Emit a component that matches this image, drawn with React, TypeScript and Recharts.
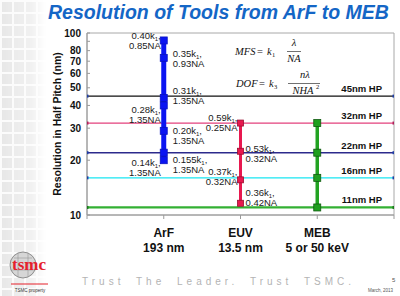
import React from 'react';
import { ComposedChart, Scatter, XAxis, YAxis, ReferenceArea } from 'recharts';

// tools on the x axis
const toolNames = ['ArF', 'EUV', 'MEB'];
const toolSources = ['193 nm', '13.5 nm', '5 or 50 keV'];

// half-pitch nodes (horizontal lines)
const hpNodes = [45, 32, 22, 16, 11];
const hpLabels = ['45nm HP', '32nm HP', '22nm HP', '16nm HP', '11nm HP'];

// ArF resolution points (nm), with k1 / NA annotations
const arfRes = [91, 73, 44, 40, 29, 22, 20];
const arfK1 = ['0.40', '0.35', '0.31', '0.28', '0.20', '0.155', '0.14'];
const arfNA = ['0.85', '0.93', '1.35', '1.35', '1.35', '1.35', '1.35'];

// EUV resolution points (nm)
const euvRes = [32, 22.4, 15.6, 11.6];
const euvK1 = ['0.59', '0.53', '0.37', '0.36'];
const euvNA = ['0.25', '0.32', '0.32', '0.42'];

// MEB resolution points (nm)
const mebRes = [32, 22, 16, 11];

const yTicks = [10, 20, 30, 40, 50, 60, 70, 80, 90, 100];
const xTicks = [0, 1, 2, 3, 4];

// annotation placement (layout only)
const arfSide = ['left', 'right', 'right', 'left', 'right', 'right', 'left'];
const arfDy = [-4, -4, -7, 5, 0, 7, 3];
const euvSide = ['left', 'right', 'left', 'right'];
const euvDy = [-5, -2, -8, -10];

const hpColors = ['#111111', '#e3407c', '#2c2a8c', '#19e6f2', '#33b033'];
const hpWidths = [1.3, 1.3, 1.5, 1.3, 2.2];
const hpDots = ['#1f3fa8', '#b0205a', '#1f3fa8', '#1f3fa8', '#1b7a1b'];

const font = 'Arial, "Liberation Sans", Helvetica, sans-serif';

const arfData = arfRes.map((y, i) => ({ x: 1, y, k1: arfK1[i], na: arfNA[i], side: arfSide[i], dy: arfDy[i] }));
const euvData = euvRes.map((y, i) => ({ x: 2, y, k1: euvK1[i], na: euvNA[i], side: euvSide[i], dy: euvDy[i] }));
const mebData = mebRes.map((y) => ({ x: 3, y }));
const hpData = hpNodes.map((v, i) => [
  { x: 0, y: v, end: false, label: hpLabels[i] },
  { x: 4, y: v, end: true, label: hpLabels[i] },
]);

function Note({ x, y, anchor, k1, na }: any) {
  return (
    <text x={x} y={y} textAnchor={anchor} fontSize={9.5} fontFamily={font} fill="#1a1a1a">
      <tspan>{k1}k</tspan>
      <tspan fontSize={6} dy={2}>1</tspan>
      <tspan dy={-2}>,</tspan>
      <tspan x={x} dy={10}>{na}NA</tspan>
    </text>
  );
}

function makeMarker(fill: string, stroke: string, size: number, gapL: number, gapR: number) {
  return (props: any) => {
    const { cx, cy, payload } = props;
    const left = payload.side === 'left';
    return (
      <g>
        <rect x={cx - size / 2} y={cy - size / 2} width={size} height={size} fill={fill} stroke={stroke} strokeWidth={0.8} />
        {payload.k1 && (
          <Note
            x={left ? cx - gapL : cx + gapR}
            y={cy + payload.dy + 3}
            anchor={left ? 'end' : 'start'}
            k1={payload.k1}
            na={payload.na}
          />
        )}
      </g>
    );
  };
}

function makeHpShape(dot: string) {
  return (props: any) => {
    const { cx, cy, payload } = props;
    return (
      <g>
        <rect x={cx - 1.5} y={cy - 1.5} width={3} height={3} fill={dot} />
        {payload.end && (
          <text x={cx - 12} y={cy - 4} textAnchor="end" fontSize={9.5} fontWeight="bold" fontFamily={font} fill="#111">
            {payload.label}
          </text>
        )}
      </g>
    );
  };
}

function YTick(props: any) {
  const { x, y, payload } = props;
  return (
    <g>
      <line x1={x + 6} x2={x + 9} y1={y} y2={y} stroke="#9a9a9a" />
      {payload.value !== 90 && (
        <text x={x} y={y + 3.5} textAnchor="end" fontSize={10} fontWeight="bold" fontFamily={font} fill="#111">
          {payload.value}
        </text>
      )}
    </g>
  );
}

function XTick(props: any) {
  const { x, y, payload } = props;
  const i = payload.value - 1;
  if (i < 0 || i >= toolNames.length) return null;
  return (
    <text x={x} textAnchor="middle" fontSize={12} fontWeight="bold" fontFamily={font} fill="#111">
      <tspan x={x} y={y + 16}>{toolNames[i]}</tspan>
      <tspan x={x} y={y + 31}>{toolSources[i]}</tspan>
    </text>
  );
}

function Tiles() {
  return (
    <div
      style={{
        position: 'absolute',
        left: 0,
        top: 0,
        width: 46,
        height: 296,
        backgroundColor: '#e4e4e4',
        backgroundImage:
          'linear-gradient(90deg, #fafafa 2px, transparent 2px), linear-gradient(#fafafa 2px, transparent 2px)',
        backgroundSize: '12px 12px',
        WebkitMaskImage: 'linear-gradient(90deg, rgba(0,0,0,0.9), rgba(0,0,0,0.5) 70%, rgba(0,0,0,0))',
        maskImage: 'linear-gradient(90deg, rgba(0,0,0,0.9), rgba(0,0,0,0.5) 70%, rgba(0,0,0,0))',
      }}
    />
  );
}

function Decor() {
  const serif = '"Liberation Serif", "DejaVu Serif", serif';
  return (
    <svg width={400} height={296} style={{ position: 'absolute', left: 0, top: 0, pointerEvents: 'none' }}>
      {/* formulas */}
      <g fontFamily={serif} fontStyle="italic" fontSize={10.5} fill="#111">
        <text x={235} y={55}>MFS</text>
        <text x={257} y={55} fontStyle="normal">=</text>
        <text x={267} y={55}>k</text>
        <text x={272} y={57} fontSize={6.5} fontStyle="normal">1</text>
        <text x={294} y={46} textAnchor="middle">λ</text>
        <line x1={287} x2={301} y1={51.5} y2={51.5} stroke="#111" strokeWidth={0.6} />
        <text x={294} y={62} textAnchor="middle">NA</text>

        <text x={236} y={87}>DOF</text>
        <text x={259} y={87} fontStyle="normal">=</text>
        <text x={269} y={87}>k</text>
        <text x={274} y={89} fontSize={6.5} fontStyle="normal">3</text>
        <text x={305} y={78} textAnchor="middle">nλ</text>
        <line x1={288} x2={320} y1={83.5} y2={83.5} stroke="#111" strokeWidth={0.6} />
        <text x={303} y={94} textAnchor="middle">NHA</text>
        <text x={316} y={89} fontSize={6.5} fontStyle="normal">2</text>
      </g>

      {/* logo */}
      <circle cx={23} cy={265} r={13} fill="#d6d6d6" stroke="#777" strokeWidth={0.8} />
      <line x1={14} x2={32} y1={258} y2={258} stroke="#888" strokeWidth={0.5} />
      <line x1={11} x2={35} y1={270} y2={270} stroke="#888" strokeWidth={0.5} />
      <line x1={18} x2={18} y1={253} y2={277} stroke="#888" strokeWidth={0.5} />
      <line x1={28} x2={28} y1={253} y2={277} stroke="#888" strokeWidth={0.5} />
      <text x={29} y={270} textAnchor="middle" fontFamily={serif} fontWeight="bold" fontSize={17} fill="#e5202b">
        tsmc
      </text>
      <line x1={11} x2={48} y1={284} y2={284} stroke="#e5202b" strokeWidth={1} />
      <text x={30} y={292} textAnchor="middle" fontFamily={font} fontSize={4.5} fill="#333">
        TSMC property
      </text>

      {/* footer */}
      <text x={82} y={285} fontFamily={font} fontSize={10} fill="#b4b4b4" letterSpacing={4} wordSpacing={5}>
        Trust The Leader. Trust TSMC.
      </text>
      <text x={392} y={282} fontFamily={font} fontSize={6} fill="#555">5</text>
      <text x={368} y={292} fontFamily={font} fontSize={4.5} fill="#555">March, 2013</text>
    </svg>
  );
}

export default function App() {
  return (
    <div style={{ position: 'absolute', left: 0, top: 0, width: 400, height: 296, background: '#fff', overflow: 'hidden' }}>
      <Tiles />
      <div
        style={{
          position: 'absolute',
          left: 48,
          top: 1,
          fontFamily: font,
          fontWeight: 'bold',
          fontStyle: 'italic',
          fontSize: 19.5,
          color: '#1466c6',
          whiteSpace: 'nowrap',
        }}
      >
        Resolution of Tools from ArF to MEB
      </div>
      <div style={{ position: 'absolute', left: 0, top: 0 }}>
        <ComposedChart width={400} height={296} margin={{ top: 33, right: 6, bottom: 31, left: 0 }}>
          <XAxis
            type="number"
            dataKey="x"
            domain={[0, 4]}
            ticks={xTicks}
            interval={0}
            tick={<XTick />}
            tickSize={4}
            tickMargin={2}
            height={50}
            axisLine={{ stroke: '#9a9a9a' }}
            tickLine={{ stroke: '#9a9a9a' }}
            allowDataOverflow
          />
          <YAxis
            type="number"
            dataKey="y"
            scale="log"
            domain={[10, 100]}
            ticks={yTicks}
            interval={0}
            tick={<YTick />}
            tickSize={0}
            tickMargin={6}
            tickLine={false}
            width={87}
            axisLine={{ stroke: '#9a9a9a' }}
            allowDataOverflow
            label={{
              value: 'Resolution in Half Pitch (nm)',
              angle: -90,
              position: 'insideLeft',
              offset: 0,
              dx: 57,
              style: { fontSize: 10.5, fontWeight: 'bold', fontFamily: font, fill: '#111', textAnchor: 'middle' },
            }}
          />
          <ReferenceArea x1={0} x2={4} y1={10} y2={100} fill="none" stroke="#a8a8a8" strokeWidth={1} />
          {hpData.map((d, i) => (
            <Scatter
              key={hpLabels[i]}
              data={d}
              line={{ stroke: hpColors[i], strokeWidth: hpWidths[i] }}
              shape={makeHpShape(hpDots[i])}
              isAnimationActive={false}
            />
          ))}
          <Scatter
            data={arfData}
            line={{ stroke: '#0a14f2', strokeWidth: 5 }}
            shape={makeMarker('#0a14f2', '#0a14c0', 7, 3, 9)}
            isAnimationActive={false}
          />
          <Scatter
            data={euvData}
            line={{ stroke: '#e8184f', strokeWidth: 3 }}
            shape={makeMarker('#e8184f', '#9a1030', 6, 3, 5)}
            isAnimationActive={false}
          />
          <Scatter
            data={mebData}
            line={{ stroke: '#22a322', strokeWidth: 3.5 }}
            shape={makeMarker('#1f9f1f', '#105a10', 7, 3, 5)}
            isAnimationActive={false}
          />
        </ComposedChart>
      </div>
      <Decor />
    </div>
  );
}
